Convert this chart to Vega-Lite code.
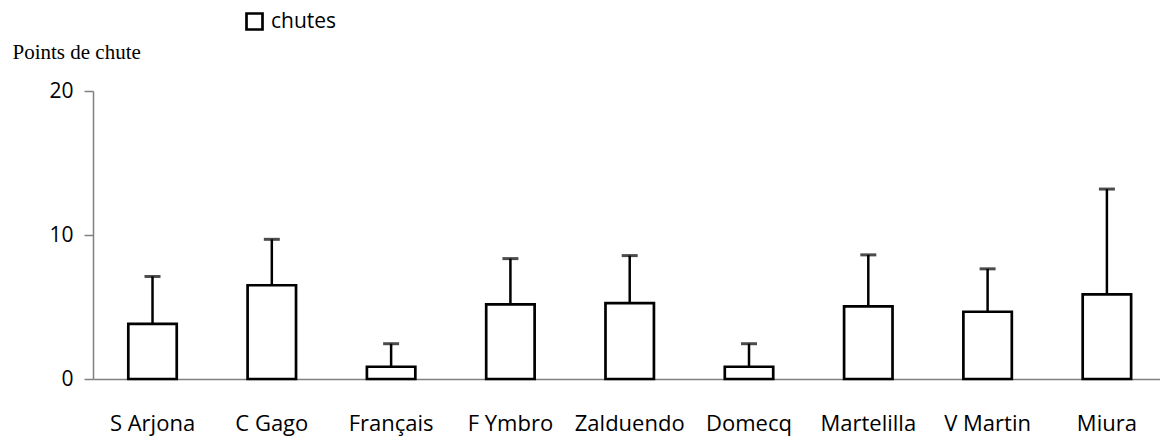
{
  "$schema": "https://vega.github.io/schema/vega-lite/v6.json",
  "autosize": {"type": "none"},
  "padding": {"left": 93, "top": 91, "right": 0, "bottom": 62},
  "width": 1067,
  "height": 288,
  "background": "white",
  "config": {"view": {"stroke": null}},
  "data": {
    "values": [
      {"race": "S Arjona", "serie": "chutes", "moyenne": 3.83, "haut": 7.12},
      {"race": "C Gago", "serie": "chutes", "moyenne": 6.51, "haut": 9.70},
      {"race": "Français", "serie": "chutes", "moyenne": 0.85, "haut": 2.45},
      {"race": "F Ymbro", "serie": "chutes", "moyenne": 5.18, "haut": 8.36},
      {"race": "Zalduendo", "serie": "chutes", "moyenne": 5.27, "haut": 8.57},
      {"race": "Domecq", "serie": "chutes", "moyenne": 0.85, "haut": 2.45},
      {"race": "Martelilla", "serie": "chutes", "moyenne": 5.04, "haut": 8.62},
      {"race": "V Martin", "serie": "chutes", "moyenne": 4.67, "haut": 7.65},
      {"race": "Miura", "serie": "chutes", "moyenne": 5.87, "haut": 13.19}
    ]
  },
  "encoding": {
    "x": {
      "field": "race",
      "type": "nominal",
      "sort": null,
      "scale": {"paddingInner": 0.594, "paddingOuter": 0.269, "align": 0.55},
      "axis": {
        "title": null,
        "labelAngle": 0,
        "labelFont": "Open Sans",
        "labelFontSize": 22,
        "labelColor": "black",
        "labelPadding": 34,
        "ticks": false,
        "domainColor": "#808080",
        "domainWidth": 1.5
      }
    }
  },
  "layer": [
    {
      "mark": {"type": "rule", "color": "black", "strokeWidth": 2.5},
      "encoding": {
        "y": {"field": "moyenne", "type": "quantitative"},
        "y2": {"field": "haut"}
      }
    },
    {
      "mark": {"type": "tick", "orient": "horizontal", "color": "black", "size": 16, "thickness": 3},
      "encoding": {
        "y": {"field": "haut", "type": "quantitative"}
      }
    },
    {
      "mark": {"type": "bar", "stroke": "black", "strokeWidth": 2.7},
      "encoding": {
        "y": {
          "field": "moyenne",
          "type": "quantitative",
          "scale": {"domain": [0, 20], "nice": false},
          "axis": {
            "values": [0, 10, 20],
            "grid": false,
            "domainColor": "#808080",
            "domainWidth": 1.5,
            "tickColor": "#808080",
            "tickWidth": 1.5,
            "tickSize": 9,
            "labelPadding": 11,
            "labelFont": "Open Sans",
            "labelFontSize": 21,
            "labelColor": "black",
            "title": "Points de chute",
            "titleAngle": 0,
            "titleFont": "Liberation Serif",
            "titleFontSize": 21,
            "titleFontWeight": "normal",
            "titleColor": "black",
            "titleAlign": "left",
            "titleBaseline": "alphabetic",
            "titleX": -81,
            "titleY": -33
          }
        },
        "fill": {
          "field": "serie",
          "type": "nominal",
          "scale": {"range": ["white"]},
          "legend": {
            "title": null,
            "orient": "none",
            "legendX": 151,
            "legendY": -80,
            "padding": 0,
            "symbolType": "square",
            "symbolSize": 256,
            "symbolStrokeColor": "black",
            "symbolStrokeWidth": 2.7,
            "symbolFillColor": "white",
            "labelFont": "Open Sans",
            "labelFontSize": 21,
            "labelColor": "black",
            "labelOffset": 6
          }
        }
      }
    }
  ]
}
